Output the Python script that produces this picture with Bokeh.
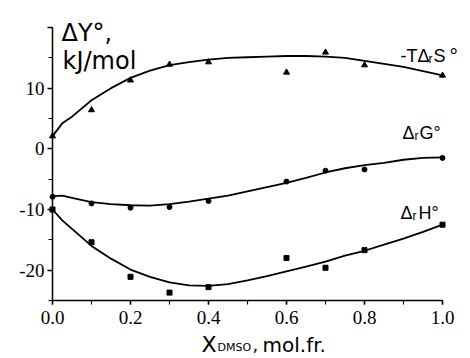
from bokeh.plotting import figure
from bokeh.models import Label, Range1d, SingleIntervalTicker, PrintfTickFormatter
from bokeh.embed import file_html
from bokeh.resources import INLINE

# measured points
x_pts = [0.0, 0.1, 0.2, 0.3, 0.4, 0.6, 0.7, 0.8, 1.0]
tds_pts = [2.1, 6.4, 11.3, 13.9, 14.3, 12.6, 15.9, 13.8, 12.1]
dg_pts = [-7.9, -9.0, -9.7, -9.6, -8.6, -5.4, -3.6, -3.4, -1.5]
dh_pts = [-10.0, -15.4, -21.1, -23.7, -22.8, -18.0, -19.6, -16.7, -12.5]

# fitted curves
x_fit = [0.0, 0.025, 0.05, 0.1, 0.15, 0.2, 0.25, 0.3, 0.35, 0.4, 0.45, 0.5,
         0.55, 0.6, 0.65, 0.7, 0.75, 0.8, 0.85, 0.9, 0.95, 1.0]
tds_fit = [2.1, 4.2, 5.3, 8.0, 10.0, 11.7, 12.9, 13.8, 14.3, 14.7, 15.0, 15.1,
           15.2, 15.3, 15.3, 15.2, 15.0, 14.5, 14.0, 13.5, 12.8, 12.1]
dg_fit = [-7.8, -7.7, -8.1, -8.8, -9.1, -9.3, -9.35, -9.1, -8.7, -8.2, -7.7, -7.0,
          -6.3, -5.6, -4.8, -3.9, -3.2, -2.7, -2.3, -1.8, -1.5, -1.4]
dh_fit = [-10.0, -11.8, -13.2, -16.0, -18.1, -19.9, -21.1, -22.0, -22.5, -22.6, -22.3, -21.7,
          -21.0, -20.2, -19.4, -18.6, -17.6, -16.8, -15.8, -14.8, -13.7, -12.5]

x_axis_bounds = (0.0, 1.0)
y_axis_bounds = (-25, 20)
y_tick_labels = {10: "10", 0: "0", -10: "-10", -20: "-20", 20: ""}

W, H = 470, 358
OFF = 0                      # canvas offset on the page
# frame covers whole canvas; axes are placed at fixed data locations
X0, XPX = 52 - OFF, 390.0          # canvas px of x=0, px per unit
YTOP, YPX = 27 - OFF, 273.0 / 45   # canvas px of y=20, px per unit

p = figure(width=W, height=H, output_backend="svg", toolbar_location=None,
           x_range=Range1d(-X0 / XPX, (W - X0) / XPX),
           y_range=Range1d(20 - (H - YTOP) / YPX, 20 + YTOP / YPX),
           min_border_left=0, min_border_right=0, min_border_top=0, min_border_bottom=0)
p.outline_line_color = None
p.xgrid.visible = False
p.ygrid.visible = False
p.background_fill_color = "white"
p.border_fill_color = "white"

for xa in p.xaxis:
    xa.fixed_location = y_axis_bounds[0]
    xa.bounds = x_axis_bounds
    xa.ticker = SingleIntervalTicker(interval=0.2, num_minor_ticks=2)
    xa.formatter = PrintfTickFormatter(format="%.1f")
    xa.major_label_text_font = "Liberation Serif"
    xa.major_label_text_font_size = "19px"
    xa.major_label_standoff = 6
    xa.major_tick_out = 4
    xa.major_tick_in = 0
    xa.minor_tick_out = 4
    xa.minor_tick_in = 0
    xa.axis_line_width = 1.5
    xa.major_tick_line_width = 1.5
    xa.minor_tick_line_width = 1.2
    xa.major_label_text_color = "black"

for ya in p.yaxis:
    ya.fixed_location = x_axis_bounds[0]
    ya.bounds = y_axis_bounds
    ya.ticker = SingleIntervalTicker(interval=10, num_minor_ticks=2)
    ya.major_label_overrides = y_tick_labels
    ya.major_label_text_font = "Liberation Serif"
    ya.major_label_text_font_size = "19px"
    ya.major_label_standoff = 3
    ya.major_tick_out = 5
    ya.major_tick_in = 0
    ya.minor_tick_out = 4
    ya.minor_tick_in = 0
    ya.axis_line_width = 1.5
    ya.major_tick_line_width = 1.5
    ya.minor_tick_line_width = 1.2
    ya.major_label_text_color = "black"

p.line(x_fit, tds_fit, line_color="black", line_width=1.8)
p.line(x_fit, dg_fit, line_color="black", line_width=1.8)
p.line(x_fit, dh_fit, line_color="black", line_width=1.8)
p.scatter(x_pts, tds_pts, marker="triangle", size=6, color="black")
p.scatter(x_pts, dg_pts, marker="circle", size=5, color="black")
p.scatter(x_pts, dh_pts, marker="square", size=5, color="black")


def lab(text, px_, py_, size, font="Liberation Sans"):
    # px_, py_ are page pixel positions
    cx, cy = px_ - OFF, py_ - OFF
    p.add_layout(Label(x=(cx - X0) / XPX, y=20 - (cy - YTOP) / YPX,
                       text=text, text_font=font, text_font_size=f"{size}px",
                       text_baseline="alphabetic", text_align="left", text_color="black"))


# curve labels
lab("-TΔ", 400, 55, 18)
lab("r", 428, 58, 12)
lab("S", 433, 55, 18)
lab("°", 449, 55, 21)

lab("Δ", 402, 132, 18)
lab("r", 414, 135, 12)
lab("G°", 419, 132, 18)

lab("Δ", 400, 212, 18)
lab("r", 412, 215, 12)
lab("H°", 418, 212, 18)

# axis titles
lab("ΔY°,", 61, 32, 24, "DejaVu Sans")
lab("kJ/mol", 62, 60, 24, "DejaVu Sans")
lab("X", 201, 344, 22, "DejaVu Sans")
lab("DMSO", 217, 347, 11, "DejaVu Sans")
lab(",", 252, 344, 18, "DejaVu Sans")
lab("mol.fr.", 262, 344, 20, "DejaVu Sans")

open("out.html", "w").write(file_html(p, INLINE))
